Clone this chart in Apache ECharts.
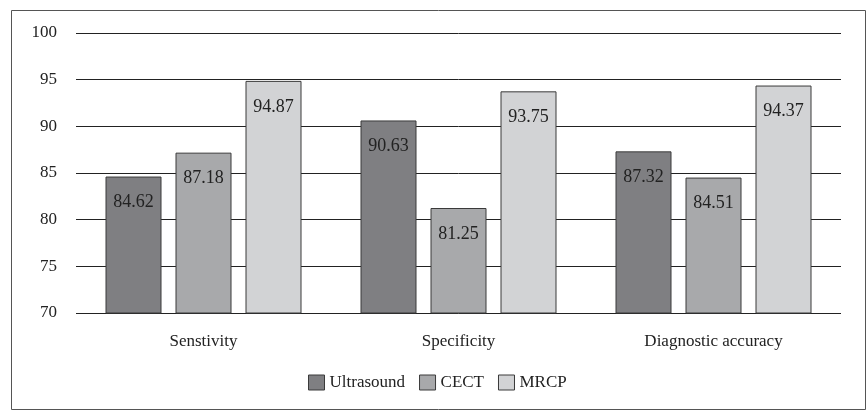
<!DOCTYPE html>
<html><head><meta charset="utf-8">
<script src="https://cdn.jsdelivr.net/npm/echarts@6/dist/echarts.min.js"></script>
<style>html,body{margin:0;padding:0;background:#fff}#c{width:868px;height:413px}</style>
</head><body><div id="c"></div>
<script>
const categories = ['Senstivity', 'Specificity', 'Diagnostic accuracy'];
const ultrasound = [84.62, 90.63, 87.32];
const cect = [87.18, 81.25, 84.51];
const mrcp = [94.87, 93.75, 94.37];
const seriesNames = ['Ultrasound', 'CECT', 'MRCP'];
const colors = ['#7f7f82', '#a8a9ab', '#d2d3d5'];
const font = '"Liberation Serif", "DejaVu Serif", serif';

const chart = echarts.init(document.getElementById('c'));
function mk(name, data, color) {
  return {
    name, type: 'bar', data,
    barWidth: 56, barGap: '25%',
    itemStyle: { color, borderColor: '#3a3a3a', borderWidth: 1 },
    label: { show: true, position: 'insideTop', distance: 17, color: '#222',
      fontFamily: font, fontSize: 18, formatter: p => p.value.toFixed(2) },
    emphasis: { disabled: true }
  };
}
chart.setOption({
  animation: false,
  textStyle: { fontFamily: font },
  graphic: [{ type: 'rect', shape: { x: 11.5, y: 10.5, width: 854, height: 399 },
    style: { fill: 'none', stroke: '#555', lineWidth: 1 }, silent: true }],
  grid: { left: 76, right: 27, top: 33, bottom: 100 },
  legend: {
    bottom: 17, left: 303, itemWidth: 16, itemHeight: 15, itemGap: 14,
    textStyle: { fontFamily: font, fontSize: 17, color: '#222' },
    data: seriesNames.map((n, i) => ({ name: n, icon: 'rect',
      itemStyle: { color: colors[i], borderColor: '#3a3a3a', borderWidth: 1 } }))
  },
  xAxis: { type: 'category', data: categories,
    axisLine: { show: false }, axisTick: { show: false },
    axisLabel: { fontFamily: font, fontSize: 17, color: '#222', margin: 20 } },
  yAxis: { type: 'value', min: 70, max: 100, interval: 5,
    axisLine: { show: false }, axisTick: { show: false },
    axisLabel: { fontFamily: font, fontSize: 17, color: '#222', margin: 19 },
    splitLine: { lineStyle: { color: '#222', width: 1 } } },
  series: [mk(seriesNames[0], ultrasound, colors[0]), mk(seriesNames[1], cect, colors[1]), mk(seriesNames[2], mrcp, colors[2])]
});
</script></body></html>
